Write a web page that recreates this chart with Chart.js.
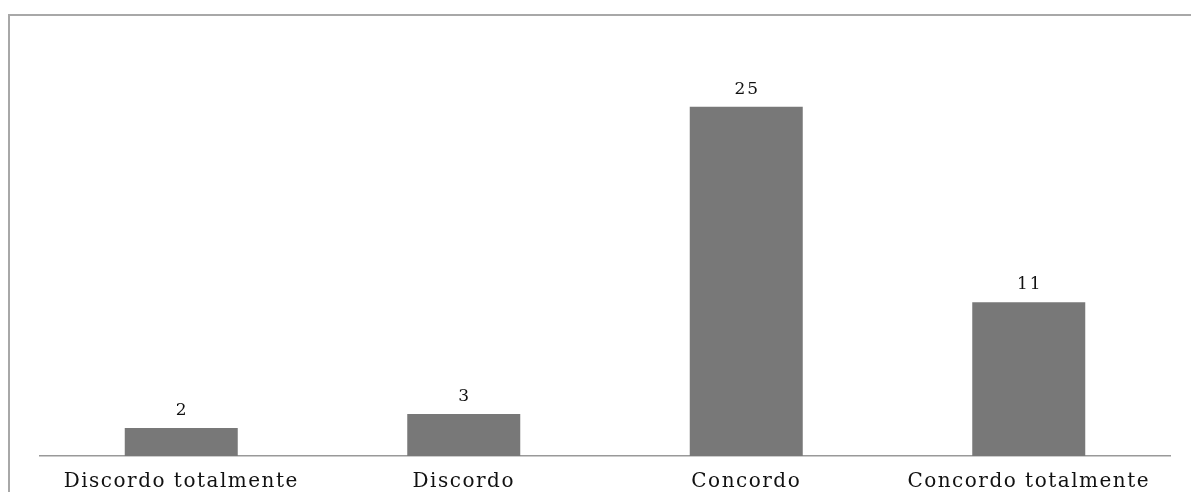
<!DOCTYPE html>
<html>
<head>
<meta charset="utf-8">
<script src="https://cdn.jsdelivr.net/npm/chart.js@4/dist/chart.umd.min.js"></script>
<style>
  html, body { margin: 0; padding: 0; background: #fff; }
  #wrap { position: relative; width: 1191px; height: 492px; }
  #frame { position: absolute; left: 8px; top: 14px; width: 1183px; height: 478px;
           border-top: 2px solid #a8a8a8; border-left: 2px solid #a8a8a8; box-sizing: border-box; }
  canvas { position: absolute; left: 0; top: 0; }
</style>
</head>
<body>
<div id="wrap">
  <div id="frame"></div>
  <canvas id="myChart" width="1191" height="492"></canvas>
</div>
<script>
var categories = ['Discordo totalmente', 'Discordo', 'Concordo', 'Concordo totalmente'];
var values = [2, 3, 25, 11];
var yMax = 30;

// draws the number above each bar
var valueLabels = {
    id: 'valueLabels',
    afterDatasetsDraw: function (chart) {
        var ctx = chart.ctx;
        var meta = chart.getDatasetMeta(0);
        ctx.save();
        ctx.font = '17px "DejaVu Serif"';
        ctx.letterSpacing = '2px';
        ctx.fillStyle = '#111';
        ctx.textAlign = 'center';
        ctx.textBaseline = 'bottom';
        meta.data.forEach(function (bar, i) {
            ctx.fillText(String(values[i]), bar.x + 1, bar.y - 9);
        });
        ctx.restore();
    }
};

var spacing = {
    id: 'spacing',
    beforeDraw: function (chart) { chart.ctx.letterSpacing = '1.5px'; }
};

document.addEventListener("DOMContentLoaded", function () {
    var ctx = document.getElementById('myChart').getContext('2d');
    new Chart(ctx, {
        type: 'bar',
        data: {
            labels: categories,
            datasets: [{
                data: values,
                backgroundColor: '#787878',
                borderWidth: 0,
                barPercentage: 0.4,
                categoryPercentage: 1
            }]
        },
        options: {
            responsive: false,
            animation: false,
            layout: { padding: { left: 40, right: 21, top: 37, bottom: -8 } },
            plugins: { legend: { display: false }, tooltip: { enabled: false } },
            scales: {
                x: {
                    grid: { display: false },
                    border: { display: true, color: '#999', width: 1.5 },
                    ticks: {
                        color: '#111',
                        padding: 6,
                        maxRotation: 0,
                        font: { family: '"DejaVu Serif"', size: 20 }
                    }
                },
                y: {
                    display: false,
                    min: 0,
                    max: yMax
                }
            }
        },
        plugins: [spacing, valueLabels]
    });
});
</script>
</body>
</html>
